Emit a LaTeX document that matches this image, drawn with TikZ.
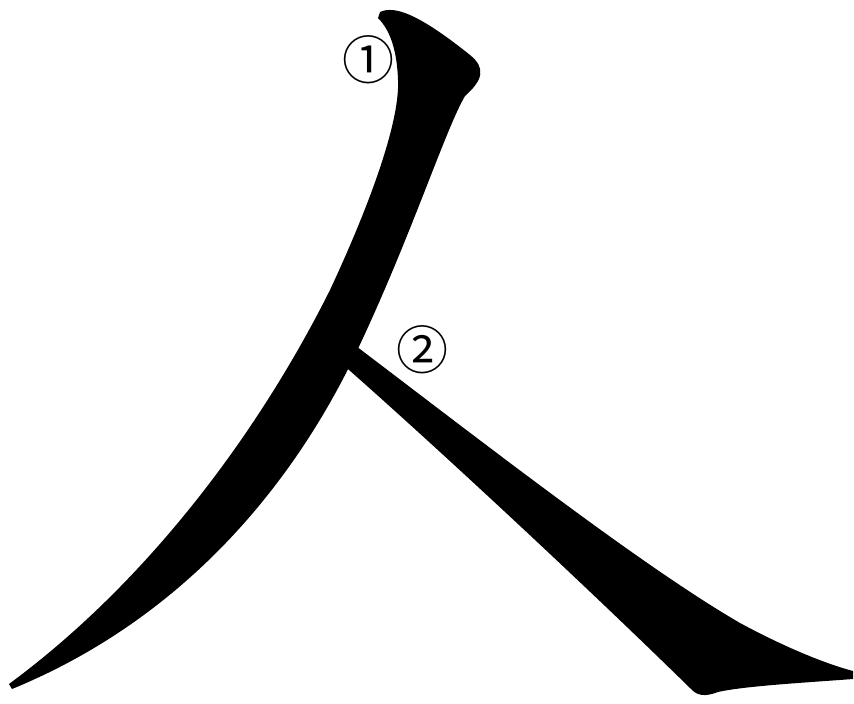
\documentclass[tikz,border=0pt]{standalone}
\usepackage{fontspec}
\usepackage{tikz}
\usetikzlibrary{positioning}
\newfontfamily\cjk{Noto Sans CJK JP}

\begin{document}
\begin{tikzpicture}[x=1pt, y=-1pt,
  stroke/.style={fill=black, draw=none},
  order/.style={font=\cjk\fontsize{52}{52}\selectfont, inner sep=0pt}]
\useasboundingbox (0,0) rectangle (854,704);
% first stroke
\fill[stroke] (380,12) .. controls (395,5) and (420,15) .. (470,55)
  .. controls (486,68) and (483,80) .. (465,96)
  .. controls (445,130) and (410,240) .. (355,355)
  .. controls (290,490) and (180,620) .. (12,689)
  -- (9,684)
  .. controls (150,580) and (260,430) .. (330,290)
  .. controls (372,200) and (400,120) .. (398,80)
  .. controls (397,50) and (390,30) .. (378,18) -- cycle;
% second stroke
\fill[stroke] (348,340)
  .. controls (480,440) and (640,565) .. (740,623)
  .. controls (790,650) and (830,665) .. (853,671)
  -- (853,679)
  .. controls (800,683) and (745,686) .. (718,692)
  .. controls (705,697) and (697,696) .. (690,688)
  .. controls (590,590) and (440,450) .. (340,362) -- cycle;
\node[order] (one) at (368,60) {①};
\node[order] (two) at (422,350) {②};
\end{tikzpicture}
\end{document}
